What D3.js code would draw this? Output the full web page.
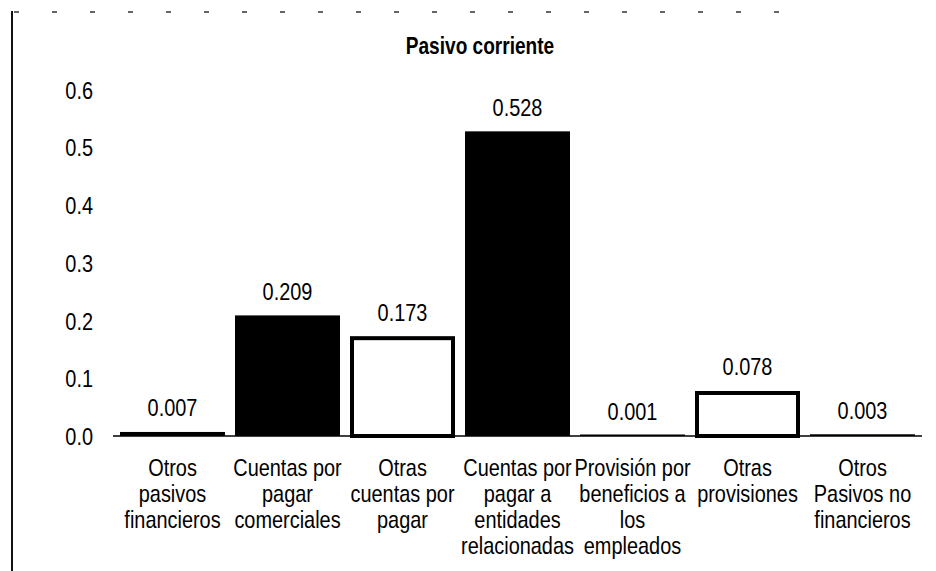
<!DOCTYPE html>
<html>
<head>
<meta charset="utf-8">
<script src="https://cdn.jsdelivr.net/npm/d3@7"></script>
<style>
  html, body { margin: 0; padding: 0; background: #fff; }
  svg { display: block; }
</style>
</head>
<body>
<svg id="chart" width="936" height="571"></svg>
<script>
// ---- data ----
const title = "Pasivo corriente";
const categories = [
  ["Otros", "pasivos", "financieros"],
  ["Cuentas por", "pagar", "comerciales"],
  ["Otras", "cuentas por", "pagar"],
  ["Cuentas por", "pagar a", "entidades", "relacionadas"],
  ["Provisión por", "beneficios a", "los", "empleados"],
  ["Otras", "provisiones"],
  ["Otros", "Pasivos no", "financieros"]
];
const values = [0.007, 0.209, 0.173, 0.528, 0.001, 0.078, 0.003];
const valueLabels = ["0.007", "0.209", "0.173", "0.528", "0.001", "0.078", "0.003"];
const yTicks = [0, 0.1, 0.2, 0.3, 0.4, 0.5, 0.6];
const outlinedBars = [2, 5];

// ---- setup ----
const svg = d3.select("#chart");
const W = 936, H = 571;

// condensed look: regular Liberation Sans squeezed horizontally
const FONT = "'Liberation Sans', Arial, sans-serif";
const SX = 0.83;
const FS = 24;

function addText(parent, x, y, str, opts = {}) {
  return parent.append("text")
    .attr("transform", `translate(${x},${y}) scale(${SX},1)`)
    .attr("text-anchor", opts.anchor || "middle")
    .attr("dy", "0.35em")
    .style("font-family", FONT)
    .style("font-size", (opts.size || FS) + "px")
    .style("font-weight", opts.weight || "normal")
    .attr("fill", "#000")
    .text(str);
}

// scanned frame remnants
svg.append("line").attr("x1", 12).attr("x2", 12).attr("y1", 11).attr("y2", H)
  .attr("stroke", "#111").attr("stroke-width", 2);
svg.append("line").attr("x1", 14).attr("x2", 800).attr("y1", 12).attr("y2", 12)
  .attr("stroke", "#333").attr("stroke-width", 1.5).attr("stroke-dasharray", "5,33");

// ---- scales ----
const x = d3.scaleBand()
  .domain(d3.range(categories.length))
  .range([115, 920])
  .paddingInner(0.087)
  .paddingOuter(0.0435);
const y = d3.scaleLinear().domain([0, 0.6]).range([436, 436 - 0.6 * 577]);

// ---- title ----
addText(svg, 480, 46, title, { weight: "bold", size: 23 });

// ---- y axis ----
const yAxis = svg.append("g")
  .attr("transform", `translate(115,0)`)
  .call(d3.axisLeft(y).tickValues(yTicks).tickFormat(d3.format(".1f")).tickSize(0).tickPadding(22));
yAxis.select(".domain").remove();
yAxis.selectAll("text")
  .style("font-family", FONT)
  .style("font-size", FS + "px")
  .attr("fill", "#000")
  .attr("x", -22 / SX)
  .attr("dy", "0.35em")
  .attr("transform", `scale(${SX},1)`);

// baseline
svg.append("line")
  .attr("x1", 113).attr("x2", 922)
  .attr("y1", y(0)).attr("y2", y(0))
  .attr("stroke", "#000").attr("stroke-width", 1.5);

// ---- bars ----
const idx = d3.range(values.length);
svg.append("g").selectAll("rect")
  .data(idx)
  .join("rect")
  .each(function (i) {
    const r = d3.select(this);
    const outlined = outlinedBars.includes(i);
    const top = y(values[i]);
    const h = Math.max(y(0) - top, 1.5);
    if (outlined) {
      r.attr("x", x(i) + 2).attr("y", top + 2)
        .attr("width", x.bandwidth() - 4).attr("height", y(0) - top - 2)
        .attr("fill", "#fff").attr("stroke", "#000").attr("stroke-width", 4);
    } else {
      r.attr("x", x(i)).attr("y", y(0) - h)
        .attr("width", x.bandwidth()).attr("height", h)
        .attr("fill", "#000");
    }
  });

// ---- value labels ----
const lblG = svg.append("g");
idx.forEach(i => {
  addText(lblG, x(i) + x.bandwidth() / 2, y(values[i]) - 24, valueLabels[i]);
});

// ---- category labels ----
const catG = svg.append("g");
categories.forEach((lines, i) => {
  lines.forEach((ln, j) => {
    addText(catG, x(i) + x.bandwidth() / 2, 468 + j * 26, ln);
  });
});
</script>
</body>
</html>
